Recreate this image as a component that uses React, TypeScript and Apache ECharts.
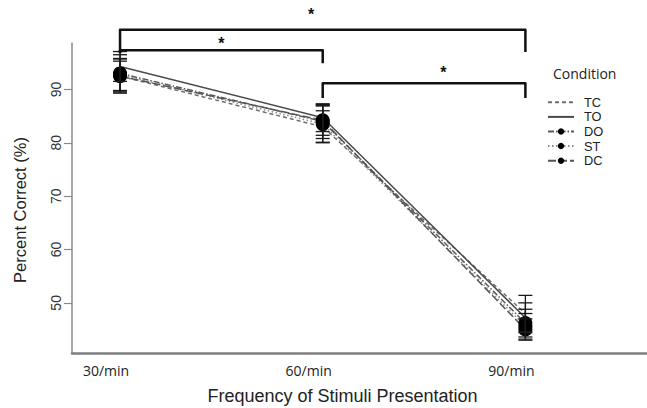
import { useEffect, useRef } from "react";
import * as echarts from "echarts";

const categories = ["30/min", "60/min", "90/min"];
const xPositions = [1, 2, 3];
const conditions = ["TC", "TO", "DO", "ST", "DC"];
const tcValues = [92.5, 83.0, 48.0];
const toValues = [94.3, 84.7, 47.2];
const doValues = [93.0, 84.0, 46.2];
const stValues = [92.8, 83.5, 45.6];
const dcValues = [92.5, 84.2, 45.0];
const tcErrors = [3.2, 3.0, 3.4];
const toErrors = [2.8, 2.6, 2.8];
const doErrors = [3.5, 3.2, 2.6];
const stErrors = [3.0, 3.4, 2.4];
const dcErrors = [2.8, 2.8, 2.0];
const yTicks = [50, 60, 70, 80, 90];
// [x start, x end, bracket height, left leg end, right leg end]
const brackets = [
  [1, 3, 101.2, 96.8, 97.0],
  [1, 2, 97.35, 96.8, 94.9],
  [2, 3, 91.15, 88.4, 88.4],
];
// [x, y] of significance stars
const stars = [
  [1.943, 104.0],
  [1.5, 98.55],
  [2.595, 93.25],
];

const valueSets = [tcValues, toValues, doValues, stValues, dcValues];
const errorSets = [tcErrors, toErrors, doErrors, stErrors, dcErrors];
const lineStyles: any[] = [
  { color: "#6e6e6e", width: 1.5, type: [4, 3] },
  { color: "#4a4a4a", width: 1.5, type: "solid" },
  { color: "#5a5a5a", width: 1.5, type: [6, 2, 1.5, 2] },
  { color: "#8a8a8a", width: 1.5, type: [1.5, 2.5] },
  { color: "#555555", width: 1.5, type: [8, 3] },
];
const hasMarker = [false, false, true, true, true];

export default function App() {
  const ref = useRef<HTMLDivElement>(null);
  useEffect(() => {
    if (!ref.current) return;
    const chart = echarts.init(ref.current, null, { renderer: "svg" });

    const lineSeries = conditions.map((name, i) => ({
      name,
      type: "line",
      data: xPositions.map((x, j) => [x, valueSets[i][j]]),
      symbol: hasMarker[i] ? "circle" : "none",
      symbolSize: 14,
      showSymbol: hasMarker[i],
      itemStyle: { color: "#000" },
      lineStyle: lineStyles[i],
      z: 3,
    }));

    const errorData: number[][] = [];
    conditions.forEach((_, i) => {
      xPositions.forEach((x, j) => {
        errorData.push([x, valueSets[i][j] - errorSets[i][j], valueSets[i][j] + errorSets[i][j]]);
      });
    });

    const option: any = {
      animation: false,
      backgroundColor: "#fff",
      title: {
        text: "Condition",
        left: 548,
        top: 61,
        textStyle: { fontFamily: "Open Sans", fontSize: 14, fontWeight: "normal", color: "#222" },
      },
      legend: {
        orient: "vertical",
        left: 542,
        top: 90,
        itemWidth: 26,
        itemHeight: 8,
        itemGap: 0,
        data: conditions.map((name, i) =>
          hasMarker[i] ? { name } : { name, itemStyle: { color: "rgba(0,0,0,0)", borderWidth: 0, opacity: 0 } }
        ),
        textStyle: { fontFamily: "Liberation Sans", fontSize: 12.8, lineHeight: 14.6, color: "#222", padding: [0, 0, 0, 5] },
      },
      grid: { left: 72, right: 0, top: 43, bottom: 55, containLabel: false, outerBoundsMode: "none" },
      xAxis: {
        type: "value",
        min: 0.763,
        max: 3.6,
        splitLine: { show: false },
        axisLine: { lineStyle: { color: "#7f7f7f", width: 2.5 } },
        axisTick: { show: false },
        axisLabel: {
          customValues: xPositions,
          formatter: (v: number) => categories[xPositions.indexOf(Math.round(v))] ?? "",
          fontFamily: "Open Sans",
          fontSize: 14,
          color: "#222",
          margin: 10,
          padding: [0, 28, 0, 0],
        },
        name: "Frequency of Stimuli Presentation",
        nameLocation: "middle",
        nameGap: 34,
        nameTextStyle: { fontFamily: "Liberation Sans", fontSize: 18, color: "#222", padding: [0, 34, 0, 0] },
      },
      yAxis: {
        type: "value",
        min: 40.6,
        max: 98.7,
        splitLine: { show: false },
        axisLine: { show: true, lineStyle: { color: "#8a8a8a", width: 1.5 } },
        axisTick: { show: true, customValues: yTicks, length: 8, lineStyle: { color: "#8a8a8a", width: 1.2 } },
        axisLabel: {
          customValues: yTicks,
          rotate: 90,
          fontFamily: "Liberation Sans",
          fontSize: 14,
          color: "#333",
          margin: 9,
        },
        name: "Percent Correct (%)",
        nameLocation: "middle",
        nameGap: 44,
        nameMoveOverlap: false,
        nameTextStyle: { fontFamily: "Liberation Sans", fontSize: 16.5, color: "#222", padding: [0, 24, 0, 0] },
      },
      series: [
        ...lineSeries,
        {
          type: "custom",
          name: "errors",
          data: errorData,
          z: 4,
          renderItem: (_p: any, api: any) => {
            const x = api.value(0);
            const lo = api.coord([x, api.value(1)]);
            const hi = api.coord([x, api.value(2)]);
            const hw = 7;
            const st = { stroke: "#1a1a1a", lineWidth: 1.3 };
            return {
              type: "group",
              children: [
                { type: "line", shape: { x1: lo[0], y1: lo[1], x2: hi[0], y2: hi[1] }, style: st },
                { type: "line", shape: { x1: lo[0] - hw, y1: lo[1], x2: lo[0] + hw, y2: lo[1] }, style: st },
                { type: "line", shape: { x1: hi[0] - hw, y1: hi[1], x2: hi[0] + hw, y2: hi[1] }, style: st },
              ],
            };
          },
        },
        {
          type: "custom",
          name: "brackets",
          data: brackets,
          clip: false,
          z: 5,
          renderItem: (_p: any, api: any) => {
            const a = api.coord([api.value(0), api.value(2)]);
            const b = api.coord([api.value(1), api.value(2)]);
            const aEnd = api.coord([api.value(0), api.value(3)]);
            const bEnd = api.coord([api.value(1), api.value(4)]);
            return {
              type: "polyline",
              shape: { points: [aEnd, a, b, bEnd] },
              style: { stroke: "#111", lineWidth: 2.5, fill: null, lineJoin: "round" },
            };
          },
        },
        {
          type: "custom",
          name: "stars",
          data: stars,
          clip: false,
          z: 5,
          renderItem: (_p: any, api: any) => {
            const p = api.coord([api.value(0), api.value(1)]);
            return {
              type: "text",
              x: p[0],
              y: p[1],
              style: {
                text: "*",
                fontSize: 16,
                fontWeight: "bold",
                fontFamily: "Liberation Sans",
                fill: "#111",
                align: "center",
                verticalAlign: "middle",
              },
            };
          },
        },
      ],
    };
    chart.setOption(option);
    return () => chart.dispose();
  }, []);
  return <div ref={ref} style={{ position: "fixed", left: 0, top: 0, width: 647, height: 408 }} />;
}
